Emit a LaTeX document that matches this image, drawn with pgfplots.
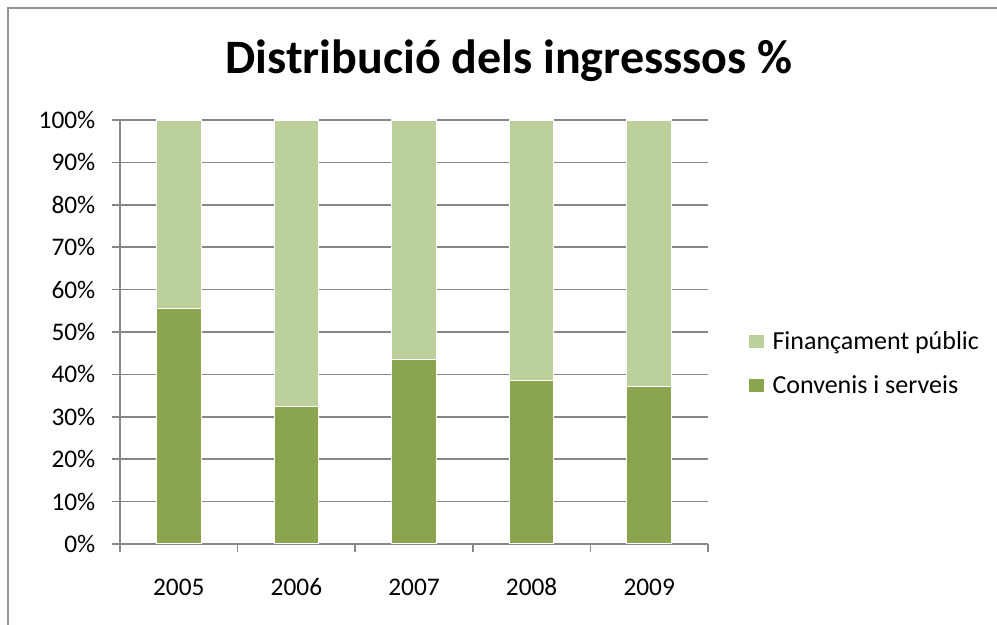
\documentclass[border=0pt]{standalone}
\usepackage{pgfplots}
\pgfplotsset{compat=1.18}
\usepackage{fontspec}
\setmainfont{Carlito}
\definecolor{darkg}{HTML}{8AA54E}
\definecolor{lightg}{HTML}{BBD09A}
\definecolor{gridc}{HTML}{878787}
\begin{document}
\begin{tikzpicture}
\useasboundingbox (0,0) rectangle (747.75pt,468.75pt);
\draw[gridc!90, line width=1.3pt] (6pt,-2pt) -- (6pt,462.75pt) -- (750pt,462.75pt);
\node[font=\fontsize{36}{42}\selectfont\bfseries] at (381.75pt,423pt) {Distribució dels ingresssos \%};
\begin{axis}[
  at={(90pt,60.75pt)}, anchor=south west,
  scale only axis, width=441pt, height=318pt,
  ybar stacked, bar width=0.38,
  xmin=-0.5, xmax=4.5, ymin=0, ymax=100,
  axis x line*=bottom, axis y line*=left,
  axis line style={gridc, line width=1.1pt, -},
  xtick={0,1,2,3,4},
  xticklabels={2005,2006,2007,2008,2009},
  minor xtick={-0.5,0.5,1.5,2.5,3.5,4.5},
  major x tick style={draw=none},
  minor tick length=6pt,
  ytick={0,10,...,100},
  yticklabel={\pgfmathprintnumber{\tick}\%},
  tick align=outside,
  major tick length=6pt,
  tick style={gridc, line width=1.1pt},
  ymajorgrids, grid style={gridc, line width=1.1pt},
  tick label style={font=\fontsize{19}{21}\selectfont},
  /pgf/number format/assume math mode=true,
  yticklabel style={xshift=-9pt},
  xticklabel style={anchor=base, yshift=-33pt, text height=12pt, text depth=0pt},
  legend style={at={(1.063,0.426)}, anchor=west, draw=none, fill=none,
    font=\fontsize{19.5}{21}\selectfont, row sep=14pt},
  legend cell align=left,
  reverse legend,
  legend image code/.code={\fill[#1,draw=none] (0pt,-4.7pt) rectangle (11pt,4.7pt); \path (15pt,0pt);},
]
\addplot[fill=darkg, draw=white, line width=0.8pt] coordinates {(0,55.5) (1,32.4) (2,43.6) (3,38.5) (4,37.1)};
\addlegendentry{Convenis i serveis}
\addplot[fill=lightg, draw=white, line width=0.8pt] coordinates {(0,44.5) (1,67.6) (2,56.4) (3,61.5) (4,62.9)};
\addlegendentry{Finançament públic}
\end{axis}
\end{tikzpicture}
\end{document}
